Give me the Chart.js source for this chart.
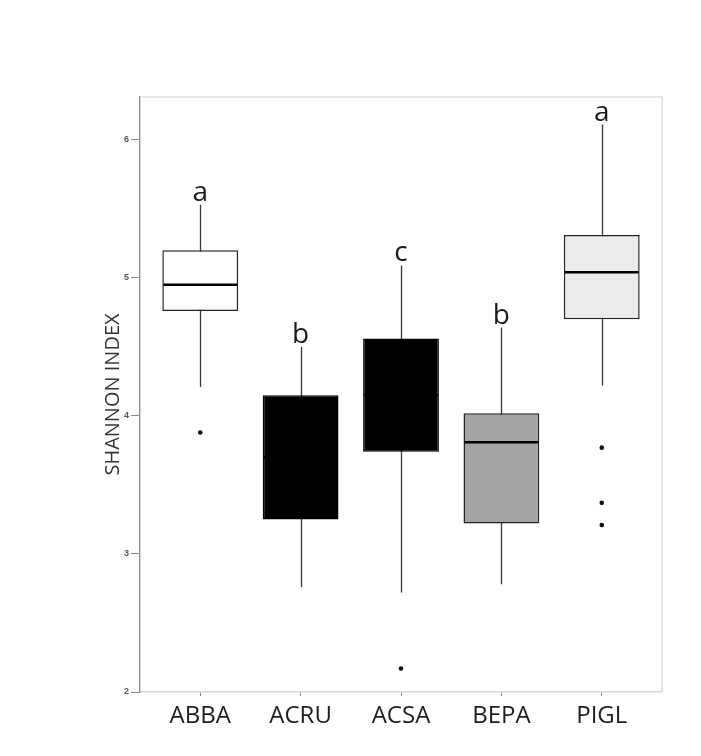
<!DOCTYPE html>
<html>
<head>
<meta charset="utf-8">
<script src="https://cdn.jsdelivr.net/npm/chart.js@4"></script>
<style>
  html, body { margin: 0; padding: 0; background: #fff; }
  #wrap { width: 701px; height: 756px; }
</style>
</head>
<body>
<div id="wrap"><canvas id="boxChart"></canvas></div>
<script>
// espécies e estatísticas do índice de Shannon
const especies = ['ABBA', 'ACRU', 'ACSA', 'BEPA', 'PIGL'];
const bigodeMin = [4.21, 2.76, 2.72, 2.78, 4.22];
const quartil1 = [4.76, 3.25, 3.74, 3.22, 4.70];
const mediana = [4.95, 3.70, 4.15, 3.81, 5.04];
const quartil3 = [5.20, 4.15, 4.56, 4.02, 5.31];
const bigodeMax = [5.53, 4.50, 5.09, 4.64, 6.11];
const outliers = [[3.88], [], [2.17], [], [3.77, 3.37, 3.21]];
const letras = ['a', 'b', 'c', 'b', 'a'];
const cores = ['#ffffff', '#000000', '#000000', '#a3a3a3', '#ebebeb'];
const bordas = ['#222222', '#000000', '#000000', '#222222', '#222222'];
const yTicks = [2, 3, 4, 5, 6];

const caixas = especies.map((e, i) => ({ x: i + 1, y: [quartil1[i], quartil3[i]] }));
const pontos = [];
outliers.forEach((lista, i) => lista.forEach(v => pontos.push({ x: i + 1, y: v })));

// bigodes, medianas, letras e moldura
const boxPlugin = {
    id: 'boxExtras',
    beforeDatasetsDraw(chart) {
        const { ctx, scales: { x, y } } = chart;
        ctx.save();
        ctx.strokeStyle = '#3a3a3a';
        ctx.lineWidth = 1.3;
        especies.forEach((e, i) => {
            const px = Math.round(x.getPixelForValue(i + 1)) + 0.5;
            ctx.beginPath();
            ctx.moveTo(px, y.getPixelForValue(bigodeMin[i]));
            ctx.lineTo(px, y.getPixelForValue(bigodeMax[i]));
            ctx.stroke();
        });
        ctx.restore();
    },
    afterDatasetsDraw(chart) {
        const { ctx, chartArea, scales: { x, y } } = chart;
        const meta = chart.getDatasetMeta(0);
        ctx.save();
        // moldura clara
        ctx.strokeStyle = '#dedede';
        ctx.lineWidth = 1.5;
        ctx.beginPath();
        ctx.moveTo(chartArea.left, chartArea.top);
        ctx.lineTo(chartArea.right, chartArea.top);
        ctx.lineTo(chartArea.right, chartArea.bottom);
        ctx.stroke();

        especies.forEach((e, i) => {
            const px = x.getPixelForValue(i + 1);
            const w = meta.data[i].width - 2;
            const py = y.getPixelForValue(mediana[i]);
            ctx.strokeStyle = '#000';
            ctx.lineWidth = 2.5;
            ctx.beginPath();
            ctx.moveTo(px - w / 2, py);
            ctx.lineTo(px + w / 2, py);
            ctx.stroke();

            ctx.fillStyle = '#1a1a1a';
            ctx.font = "28px 'Open Sans'";
            ctx.textAlign = 'center';
            ctx.textBaseline = 'alphabetic';
            ctx.fillText(letras[i], px, y.getPixelForValue(bigodeMax[i]) - 4);
        });
        ctx.restore();
    }
};

const ctx = document.getElementById('boxChart');

new Chart(ctx, {
    type: 'bar',
    data: {
        datasets: [{
            data: caixas,
            backgroundColor: cores,
            borderColor: bordas,
            borderWidth: 1.5,
            borderSkipped: false,
            barPercentage: 0.755,
            categoryPercentage: 1,
            order: 2
        }, {
            type: 'scatter',
            data: pontos,
            pointRadius: 2.3,
            pointBackgroundColor: '#111',
            pointBorderWidth: 0,
            order: 1
        }]
    },
    plugins: [boxPlugin],
    options: {
        responsive: true,
        maintainAspectRatio: false,
        animation: false,
        layout: {
            padding: { top: 97, right: 39, left: 0, bottom: 0 }
        },
        plugins: {
            legend: { display: false },
            tooltip: { enabled: false }
        },
        scales: {
            x: {
                type: 'linear',
                offset: false,
                min: 0.4,
                max: 5.6,
                afterBuildTicks: (scale) => {
                    scale.ticks = especies.map((e, i) => ({ value: i + 1 }));
                },
                afterFit: (scale) => { scale.height = 64; },
                ticks: {
                    callback: (v) => especies[v - 1],
                    color: '#1e1e1e',
                    padding: 6,
                    maxRotation: 0,
                    autoSkip: false,
                    font: { family: "'Open Sans', sans-serif", size: 24 }
                },
                grid: {
                    offset: false,
                    drawOnChartArea: false,
                    tickLength: 4,
                    color: '#888'
                },
                border: { color: '#d8d8d8', width: 1.5 }
            },
            y: {
                min: 2,
                max: 6.31,
                afterBuildTicks: (scale) => {
                    scale.ticks = yTicks.map(v => ({ value: v }));
                },
                afterFit: (scale) => { scale.width = 140; },
                title: {
                    display: true,
                    text: 'SHANNON INDEX',
                    color: '#333',
                    padding: { top: 101, bottom: 0 },
                    font: { family: "'Open Sans', sans-serif", size: 20 }
                },
                ticks: {
                    color: '#555',
                    padding: 2,
                    font: { family: "'Liberation Sans', sans-serif", size: 9, weight: 'bold' }
                },
                grid: {
                    drawOnChartArea: false,
                    tickLength: 9,
                    color: '#888'
                },
                border: { color: '#8a8a8a', width: 1.3 }
            }
        }
    }
});
</script>
</body>
</html>
